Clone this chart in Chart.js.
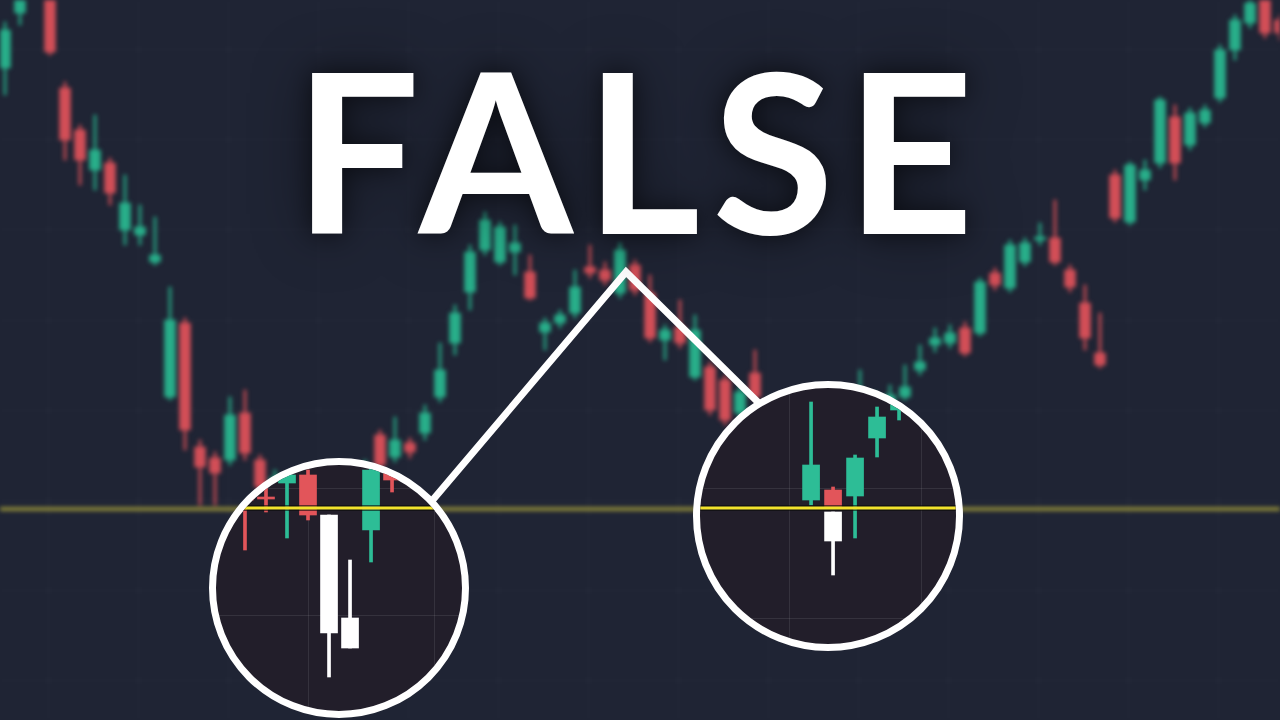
<!DOCTYPE html>
<html>
<head>
<meta charset="utf-8">
<script src="https://cdn.jsdelivr.net/npm/chart.js@4.4.0/dist/chart.umd.min.js"></script>
<style>
  html, body { margin: 0; padding: 0; background: #1f2434; }
  #stage { position: relative; width: 1280px; height: 720px; overflow: hidden; background: #1f2434; }
  #main { position: absolute; left: 0; top: 0; filter: blur(2.2px); }
  svg { position: absolute; left: 0; top: 0; }
  .lens { position: absolute; border: 7px solid #fff; border-radius: 50%; overflow: hidden; background: #221e2a; }
  .lens canvas { display: block; }
  #lens1 { left: 209px; top: 458px; width: 246px; height: 246px; }
  #lens2 { left: 693px; top: 381px; width: 256px; height: 256px; }
  #title {
    position: absolute; left: -6px; top: 37px; width: 1280px; box-sizing: border-box;
    padding-left: 12px; text-align: center; color: #fff;
    font: 700 222px/222px Lato, "Open Sans", sans-serif; letter-spacing: 12px;
    text-shadow: 0 0 25px rgba(0,0,0,0.55), 0 0 60px rgba(0,0,0,0.45);
  }
</style>
</head>
<body>
<div id="stage">
  <canvas id="main" width="1280" height="720"></canvas>
  <svg width="1280" height="720">
    <polyline points="420,515 626,272 768,412" fill="none" stroke="#ffffff" stroke-width="7" stroke-linejoin="miter" />
  </svg>
  <div class="lens" id="lens1"><canvas id="c1" width="246" height="246"></canvas></div>
  <div class="lens" id="lens2"><canvas id="c2" width="256" height="256"></canvas></div>
  <div id="title">FALSE</div>
</div>
<script>
// background price action, one entry per candle
const open  = [652,707,730,725,632,590,550,557,490,485,458,323,397,273,262,260,307,260,225,240,
               225,215,190,222,205,285,263,277,287,323,377,428,470,458,468,448,388,397,407,453,
               450,427,455,427,380,393,343,353,340,307,347,300,310,295,270,290,275,300,310,315,
               323,350,375,377,392,387,447,432,458,480,482,450,417,367,545,498,540,557,603,575,
               597,622,670,697,725,700];
const high  = [698,740,770,735,638,595,605,562,545,515,503,433,402,280,268,323,330,265,250,245,
               230,220,225,230,260,290,303,282,315,377,415,475,508,498,495,465,402,410,450,475,
               458,477,460,445,395,420,405,358,345,335,370,322,320,300,295,295,310,350,328,335,
               355,375,392,395,398,442,452,480,482,497,520,455,435,407,550,558,560,623,615,612,
               615,675,705,722,730,705];
const low   = [625,695,725,665,560,535,530,515,475,475,455,320,270,215,215,255,260,220,220,205,
               180,160,180,195,180,250,258,262,280,318,365,410,465,455,445,420,370,392,402,442,
               435,422,425,378,360,372,340,305,295,302,320,290,280,260,265,270,270,295,305,310,
               320,345,368,372,364,384,430,428,454,475,455,428,370,352,498,495,530,552,540,570,
               593,618,660,692,682,680];
const close = [690,730,760,668,580,560,570,527,517,493,465,400,290,253,247,305,267,233,242,220,
               208,195,215,210,252,255,280,268,307,350,407,468,500,493,477,422,397,405,433,447,
               440,470,430,382,390,377,390,310,300,328,323,315,290,275,290,280,300,320,322,325,
               333,358,382,387,367,438,435,475,477,483,458,433,382,355,502,555,550,620,557,607,
               610,670,700,717,687,687];
const level = 211;
const gridX = [2.9, 8.9, 14.9, 20.9, 26.9, 32.9, 38.9, 44.9, 50.9, 56.9, 62.9, 68.9, 74.9, 80.9];
const gridY = [40, 130, 220, 310, 400, 490, 580, 670];

// left magnifier
const lens1Pos   = [0, 1, 2, 3, 4, 5, 6, 7];
const lens1Open  = [240, 223, 237, 245, 205, 102, 190, 265];
const lens1High  = [245, 235, 255, 250, 205, 160, 260, 270];
const lens1Low   = [170, 208, 182, 200, 43, 72, 158, 228];
const lens1Close = [220, 221, 245, 205, 87, 72, 250, 240];
const lens1Break = [false, false, false, false, true, true, false, false];
const lens1Level = 212;
const lens1GridX = [-3, 3, 9];
const lens1GridY = [105, 232];

// right magnifier
const lens2Pos   = [0, 1, 1, 2, 3, 4];
const lens2Open  = [220, 230, 208, 224, 282, 310];
const lens2High  = [318, 233, 208, 265, 313, 322];
const lens2Low   = [215, 213, 145, 182, 263, 300];
const lens2Close = [255, 213, 179, 262, 303, 316];
const lens2Break = [false, false, true, false, false, false];
const lens2Level = 212;
const lens2GridX = [-1, 5];
const lens2GridY = [102, 232];

function colorsFor(o, c, brk, up, down) {
  return o.map((v, i) => (brk && brk[i]) ? '#ffffff' : (c[i] >= v ? up : down));
}

function gridScale(min, max, ticks, color) {
  return {
    type: 'linear', min: min, max: max, offset: false,
    afterBuildTicks: (scale) => { scale.ticks = ticks.map((v) => ({ value: v })); },
    ticks: { display: false },
    border: { display: false },
    grid: { color: color, drawTicks: false, lineWidth: 1, offset: false }
  };
}

function candleChart(ctx, d) {
  const cols = colorsFor(d.open, d.close, d.brk, d.up, d.down);
  const datasets = [];
  if (d.levelShadow) {
    datasets.push({ type: 'line', data: [{ x: -50, y: d.level }, { x: 200, y: d.level }],
      borderColor: d.levelShadow, borderWidth: 6, pointRadius: 0, order: 1 });
  }
  datasets.push({ type: 'line', data: [{ x: -50, y: d.level }, { x: 200, y: d.level }],
    borderColor: d.levelColor, borderWidth: d.levelWidth, pointRadius: 0, order: 0 });
  datasets.push({ data: d.pos.map((x, i) => ({ x: x, y: [d.low[i], d.high[i]] })),
    backgroundColor: cols, barThickness: d.wick, grouped: false, order: 3 });
  datasets.push({ data: d.pos.map((x, i) => ({ x: x, y: [d.open[i], d.close[i]] })),
    backgroundColor: cols, barThickness: d.body, minBarLength: 2, grouped: false, order: 2 });

  return new Chart(ctx, {
    type: 'bar',
    data: { datasets: datasets },
    options: {
      responsive: false,
      animation: false,
      layout: { padding: 0 },
      plugins: { legend: { display: false }, tooltip: { enabled: false } },
      scales: {
        x: gridScale(d.xMin, d.xMax, d.gridX, d.gridColor),
        y: gridScale(d.yMin, d.yMax, d.gridY, d.gridColor)
      }
    }
  });
}

candleChart(document.getElementById('main'), {
  pos: open.map((_, i) => i), open: open, high: high, low: low, close: close,
  up: 'rgba(40,178,140,0.95)', down: 'rgba(216,80,88,0.95)', body: 11, wick: 2,
  level: level, levelColor: 'rgba(190,180,60,0.7)', levelWidth: 4,
  xMin: -1 / 3, xMax: 85, yMin: 0, yMax: 720,
  gridX: gridX, gridY: gridY, gridColor: 'rgba(255,255,255,0.045)'
});

candleChart(document.getElementById('c1'), {
  pos: lens1Pos, open: lens1Open, high: lens1High, low: lens1Low, close: lens1Close, brk: lens1Break,
  up: '#2dbd96', down: '#e2555a', body: 17, wick: 3,
  level: lens1Level, levelColor: '#f3e32c', levelWidth: 3, levelShadow: 'rgba(10,10,10,0.6)',
  xMin: -1.38, xMax: 10.33, yMin: 9, yMax: 255,
  gridX: lens1GridX, gridY: lens1GridY, gridColor: 'rgba(255,255,255,0.09)'
});

candleChart(document.getElementById('c2'), {
  pos: lens2Pos, open: lens2Open, high: lens2High, low: lens2Low, close: lens2Close, brk: lens2Break,
  up: '#2dbd96', down: '#e2555a', body: 17, wick: 3,
  level: lens2Level, levelColor: '#f3e32c', levelWidth: 3, levelShadow: 'rgba(10,10,10,0.6)',
  xMin: -5.05, xMax: 6.59, yMin: 76, yMax: 332,
  gridX: lens2GridX, gridY: lens2GridY, gridColor: 'rgba(255,255,255,0.09)'
});
</script>
</body>
</html>
